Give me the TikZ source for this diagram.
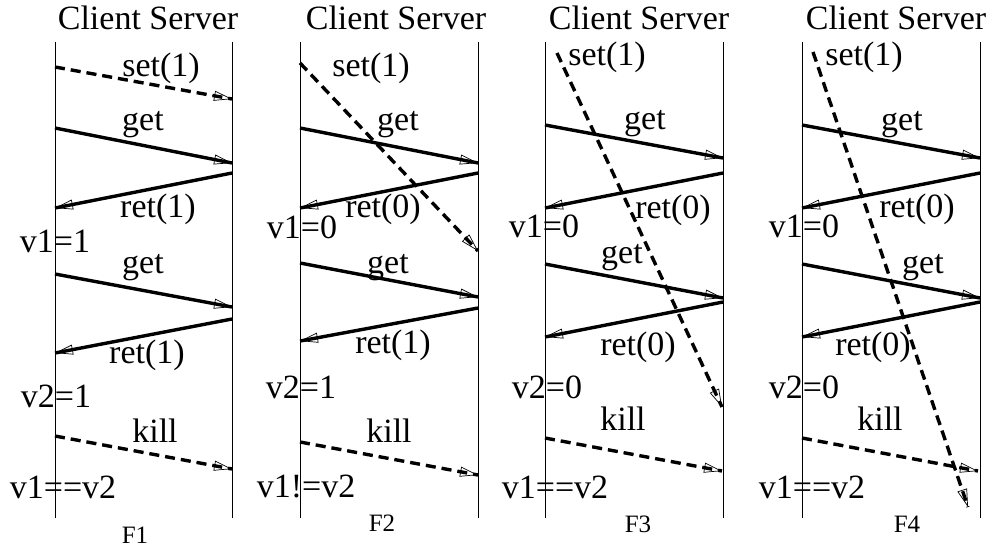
\documentclass[tikz,border=0pt]{standalone}
\usepackage{fontspec}
\setmainfont{Liberation Serif}
\usetikzlibrary{arrows.meta}

\tikzset{
  lbl/.style={anchor=base, inner sep=0pt, font=\fontsize{34}{40}\selectfont},
  figlbl/.style={anchor=base, inner sep=0pt, font=\fontsize{25}{30}\selectfont},
  life/.style={line width=0.9pt},
  % thin open head laid over the end of the thick shaft
  tiphead/.style={postaction={draw, line width=0.7pt,
      -{Triangle[open, length=18pt, width=10pt]}}},
  call/.style={line width=3.4pt, tiphead},
  async/.style={line width=3.4pt, dash pattern=on 10pt off 6pt, tiphead},
}

\begin{document}
\begin{tikzpicture}[x=1pt, y=-1pt]
\useasboundingbox (0,0) rectangle (997,547);

% ---------- F1 ----------
\coordinate (c1t) at (55,42);  \coordinate (c1b) at (55,518);
\coordinate (s1t) at (232,42); \coordinate (s1b) at (232,518);
\draw[life] (c1t) -- (c1b);
\draw[life] (s1t) -- (s1b);
\node[lbl] (h1) at (148,29) {Client Server};
\coordinate (a1) at (55,67);   \coordinate (b1) at (232,99);
\coordinate (a2) at (55,128);  \coordinate (b2) at (232,163);
\coordinate (b3) at (232,173); \coordinate (a3) at (55,208);
\coordinate (a4) at (55,274);  \coordinate (b4) at (232,307);
\coordinate (b5) at (232,319); \coordinate (a5) at (55,353);
\coordinate (a6) at (55,436);  \coordinate (b6) at (232,469);
\draw[async] (a1) -- (b1);
\draw[call] (a2) -- (b2);
\draw[call] (b3) -- (a3);
\draw[call] (a4) -- (b4);
\draw[call] (b5) -- (a5);
\draw[async] (a6) -- (b6);
\node[lbl] (l1a) at (161,76) {set(1)};
\node[lbl] (l1b) at (143,130) {get};
\node[lbl] (l1c) at (158,217) {ret(1)};
\node[lbl] (l1d) at (55,252) {v1=1};
\node[lbl] (l1e) at (143,273) {get};
\node[lbl] (l1f) at (147,363) {ret(1)};
\node[lbl] (l1g) at (56,407) {v2=1};
\node[lbl] (l1h) at (155,442) {kill};
\node[lbl] (l1i) at (63,498) {v1==v2};
\node[figlbl] (f1) at (135,543) {F1};

% ---------- F2 ----------
\coordinate (c2t) at (300,42); \coordinate (c2b) at (300,518);
\coordinate (s2t) at (478,42); \coordinate (s2b) at (478,518);
\draw[life] (c2t) -- (c2b);
\draw[life] (s2t) -- (s2b);
\node[lbl] (h2) at (396,29) {Client Server};
\coordinate (d1) at (300,63);  \coordinate (e1) at (478,251);
\coordinate (d2) at (300,128); \coordinate (e2) at (478,163);
\coordinate (e3) at (478,173); \coordinate (d3) at (300,208);
\coordinate (d4) at (300,263); \coordinate (e4) at (478,297);
\coordinate (e5) at (478,308); \coordinate (d5) at (300,341);
\coordinate (d6) at (300,442); \coordinate (e6) at (478,475);
\draw[call] (d2) -- (e2);
\draw[call] (e3) -- (d3);
\draw[call] (d4) -- (e4);
\draw[call] (e5) -- (d5);
\draw[async] (d1) -- (e1);
\draw[async] (d6) -- (e6);
\node[lbl] (l2a) at (371,76) {set(1)};
\node[lbl] (l2b) at (398,130) {get};
\node[lbl] (l2c) at (383,217) {ret(0)};
\node[lbl] (l2d) at (302,238) {v1=0};
\node[lbl] (l2e) at (388,273) {get};
\node[lbl] (l2f) at (393,353) {ret(1)};
\node[lbl] (l2g) at (301,398) {v2=1};
\node[lbl] (l2h) at (389,442) {kill};
\node[lbl] (l2i) at (306,497) {v1!=v2};
\node[figlbl] (f2) at (382,531) {F2};

% ---------- F3 ----------
\coordinate (c3t) at (545,42); \coordinate (c3b) at (545,518);
\coordinate (s3t) at (723,42); \coordinate (s3b) at (723,518);
\draw[life] (c3t) -- (c3b);
\draw[life] (s3t) -- (s3b);
\node[lbl] (h3) at (639,29) {Client Server};
\coordinate (g1) at (557,53);  \coordinate (k1) at (722,407);
\coordinate (g2) at (545,125); \coordinate (k2) at (723,158);
\coordinate (k3) at (723,173); \coordinate (g3) at (545,208);
\coordinate (g4) at (545,264); \coordinate (k4) at (723,298);
\coordinate (k5) at (723,302); \coordinate (g5) at (545,337);
\coordinate (g6) at (545,438); \coordinate (k6) at (722,471);
\draw[call] (g2) -- (k2);
\draw[call] (k3) -- (g3);
\draw[call] (g4) -- (k4);
\draw[call] (k5) -- (g5);
\draw[async] (g1) -- (k1);
\draw[async] (g6) -- (k6);
\node[lbl] (l3a) at (607,65) {set(1)};
\node[lbl] (l3b) at (645,129) {get};
\node[lbl] (l3c) at (673,218) {ret(0)};
\node[lbl] (l3d) at (544,237) {v1=0};
\node[lbl] (l3e) at (622,263) {get};
\node[lbl] (l3f) at (638,355) {ret(0)};
\node[lbl] (l3g) at (547,398) {v2=0};
\node[lbl] (l3h) at (623,430) {kill};
\node[lbl] (l3i) at (555,498) {v1==v2};
\node[figlbl] (f3) at (638,532) {F3};

% ---------- F4 ----------
\coordinate (c4t) at (802,42); \coordinate (c4b) at (802,518);
\coordinate (s4t) at (980,42); \coordinate (s4b) at (980,518);
\draw[life] (c4t) -- (c4b);
\draw[life] (s4t) -- (s4b);
\node[lbl] (h4) at (896,29) {Client Server};
\coordinate (m1) at (813,52);  \coordinate (n1) at (968,507);
\coordinate (m2) at (802,125); \coordinate (n2) at (980,158);
\coordinate (n3) at (980,173); \coordinate (m3) at (802,208);
\coordinate (m4) at (802,264); \coordinate (n4) at (980,298);
\coordinate (n5) at (980,302); \coordinate (m5) at (802,337);
\coordinate (m6) at (802,438); \coordinate (n6) at (978,471);
\draw[call] (m2) -- (n2);
\draw[call] (n3) -- (m3);
\draw[call] (m4) -- (n4);
\draw[call] (n5) -- (m5);
\draw[async] (m1) -- (n1);
\draw[async] (m6) -- (n6);
\node[lbl] (l4a) at (864,65) {set(1)};
\node[lbl] (l4b) at (902,130) {get};
\node[lbl] (l4c) at (917,217) {ret(0)};
\node[lbl] (l4d) at (804,237) {v1=0};
\node[lbl] (l4e) at (923,273) {get};
\node[lbl] (l4f) at (873,355) {ret(0)};
\node[lbl] (l4g) at (804,398) {v2=0};
\node[lbl] (l4h) at (880,430) {kill};
\node[lbl] (l4i) at (812,498) {v1==v2};
\node[figlbl] (f4) at (907,532) {F4};
\end{tikzpicture}
\end{document}
